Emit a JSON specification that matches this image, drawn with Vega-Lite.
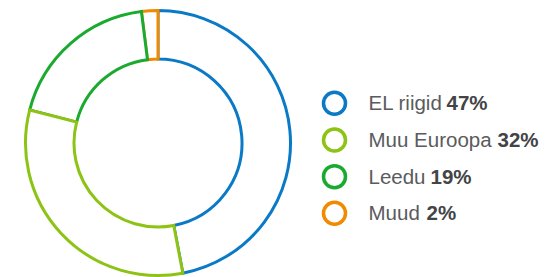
{
  "$schema": "https://vega.github.io/schema/vega-lite/v6.json",
  "padding": {"left": 0, "top": 4, "right": 0, "bottom": 0},
  "spacing": 0,
  "background": "white",
  "config": {"view": {"stroke": null}, "text": {"font": "Liberation Sans"}},
  "data": {
    "values": [
      {"name": "EL riigid", "share": 47, "pct": "47%"},
      {"name": "Muud", "share": 2, "pct": "2%"},
      {"name": "Leedu", "share": 19, "pct": "19%"},
      {"name": "Muu Euroopa", "share": 32, "pct": "32%"}
    ]
  },
  "hconcat": [
    {
      "width": 316,
      "height": 266,
      "mark": {"type": "arc", "outerRadius": 132.5, "innerRadius": 84, "fill": "white", "strokeWidth": 3, "strokeJoin": "miter"},
      "encoding": {
        "theta": {"field": "share", "type": "quantitative", "stack": true},
        "order": {"field": "share", "sort": "descending"},
        "stroke": {
          "field": "name", "type": "nominal", "legend": null,
          "scale": {"domain": ["EL riigid", "Muu Euroopa", "Leedu", "Muud"], "range": ["#0a79c6", "#8cc314", "#1aaa2f", "#f08a00"]}
        }
      }
    },
    {
      "width": 33,
      "height": 266,
      "encoding": {
        "y": {
          "field": "name", "type": "nominal", "axis": null,
          "sort": ["EL riigid", "Muu Euroopa", "Leedu", "Muud"],
          "scale": {"type": "point", "padding": 0, "range": [93.3, 203.3]}
        }
      },
      "layer": [
        {
          "mark": {"type": "point", "shape": "circle", "filled": false, "size": 484, "strokeWidth": 3.5, "opacity": 1},
          "encoding": {
            "stroke": {
              "field": "name", "type": "nominal", "legend": null,
              "scale": {"domain": ["EL riigid", "Muu Euroopa", "Leedu", "Muud"], "range": ["#0a79c6", "#8cc314", "#1aaa2f", "#f08a00"]}
            }
          }
        },
        {
          "mark": {"type": "text", "align": "left", "baseline": "middle", "dx": 34, "dy": 1, "fontSize": 20.5, "color": "#5a5b5d"},
          "encoding": {"text": {"field": "name"}}
        },
        {
          "mark": {
            "type": "text", "align": "left", "baseline": "middle", "dy": 1, "fontSize": 20.5, "fontWeight": "bold", "color": "#434446",
            "dx": {"expr": "34 + (datum.name == 'EL riigid' ? 78 : datum.name == 'Muu Euroopa' ? 129 : datum.name == 'Leedu' ? 62 : 58)"}
          },
          "encoding": {"text": {"field": "pct"}}
        }
      ]
    }
  ]
}
